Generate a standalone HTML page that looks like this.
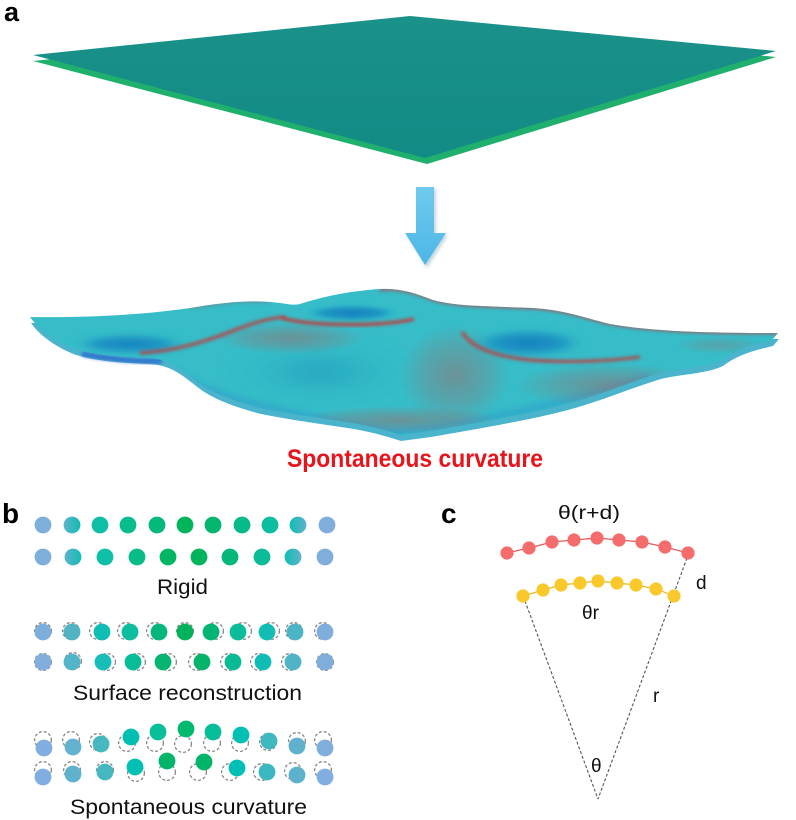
<!DOCTYPE html>
<html><head><meta charset="utf-8"><style>
html,body{margin:0;padding:0;background:#fff;}
svg{display:block;}
text{font-family:"Liberation Sans",Arial,sans-serif;}
</style></head><body>
<svg width="796" height="820" viewBox="0 0 796 820" xmlns="http://www.w3.org/2000/svg">
<defs>
  <filter id="b1" x="-50%" y="-50%" width="200%" height="200%"><feGaussianBlur stdDeviation="1.6"/></filter>
  <filter id="b2" x="-50%" y="-50%" width="200%" height="200%"><feGaussianBlur stdDeviation="3"/></filter>
  <filter id="b3" x="-50%" y="-50%" width="200%" height="200%"><feGaussianBlur stdDeviation="8"/></filter>
  <filter id="sh" x="-50%" y="-50%" width="200%" height="200%"><feGaussianBlur stdDeviation="1.5"/></filter>
  <linearGradient id="arrowG" x1="0" y1="0" x2="0" y2="1">
    <stop offset="0" stop-color="#6fcaee"/><stop offset="1" stop-color="#4db6e6"/>
  </linearGradient>
  <linearGradient id="sheetG" x1="0" y1="0" x2="0" y2="1">
    <stop offset="0" stop-color="#1a9189"/><stop offset="1" stop-color="#128b86"/>
  </linearGradient>
  <radialGradient id="dimG">
    <stop offset="0" stop-color="#1680c0"/><stop offset="0.6" stop-color="#1f98c4"/><stop offset="1" stop-color="#2fb8c6" stop-opacity="0"/>
  </radialGradient>
  <radialGradient id="bigG">
    <stop offset="0" stop-color="#22a2c0"/><stop offset="1" stop-color="#2fb8c6" stop-opacity="0"/>
  </radialGradient>
  <radialGradient id="redG">
    <stop offset="0" stop-color="#a06868" stop-opacity="0.5"/><stop offset="0.6" stop-color="#a06868" stop-opacity="0.25"/><stop offset="1" stop-color="#a06868" stop-opacity="0"/>
  </radialGradient>
  <linearGradient id="gL" x1="0" y1="0" x2="1" y2="0">
    <stop offset="0" stop-color="#60b2cc"/><stop offset="1" stop-color="#0fbdb3"/>
  </linearGradient>
  <linearGradient id="gR" x1="0" y1="0" x2="1" y2="0">
    <stop offset="0" stop-color="#0fbdb3"/><stop offset="1" stop-color="#60b2cc"/>
  </linearGradient>
  <clipPath id="surfClip">
    <path d="M30,317 C90,318 150,314 190,308 C220,303 245,300 270,302 C285,303 292,306 300,304 C325,296 350,291 380,289 C400,288 415,293 433,300 C455,306 480,306 533,308 C565,310 585,318 610,324 C650,331 700,333 778,333 L772,340 C750,345 735,350 722,360 C705,368 680,368 660,373 C630,382 600,395 567,404 C530,414 470,424 430,431 L400,435 C385,430 370,426 353,423 C320,418 290,414 260,408 C230,400 210,392 195,380 C180,368 170,360 150,358 C120,357 90,355 70,347 C50,338 38,328 30,317 Z"/>
  </clipPath>
</defs>

<!-- Panel a label -->
<text x="4" y="21" font-size="27" font-weight="bold" fill="#000">a</text>

<!-- Flat bilayer sheet -->
<polygon points="410,22 33,61 427,164 776,57" fill="#20b06e"/>
<polygon points="410,16 33,55 425,158 776,51" fill="url(#sheetG)"/>

<!-- Arrow -->
<g filter="url(#sh)" opacity="0.35">
  <polygon points="418,189 436,189 436,235 448,235 427,268 407,235 418,235" fill="#5a8aa0"/>
</g>
<polygon points="416,187 434,187 434,233 446,233 425,265 405,233 416,233" fill="url(#arrowG)"/>

<!-- Curved bilayer surface: lower layer -->
<g transform="translate(1,6)">
  <path d="M30,317 C90,318 150,314 190,308 C220,303 245,300 270,302 C285,303 292,306 300,304 C325,296 350,291 380,289 C400,288 415,293 433,300 C455,306 480,306 533,308 C565,310 585,318 610,324 C650,331 700,333 778,333 L772,340 C750,345 735,350 722,360 C705,368 680,368 660,373 C630,382 600,395 567,404 C530,414 470,424 430,431 L400,435 C385,430 370,426 353,423 C320,418 290,414 260,408 C230,400 210,392 195,380 C180,368 170,360 150,358 C120,357 90,355 70,347 C50,338 38,328 30,317 Z" fill="#4ab4cc"/>
</g>
<path d="M82,354 C110,359 140,362 162,361" fill="none" stroke="#2a64d0" stroke-width="5" opacity="0.8" filter="url(#b1)"/>
<!-- upper layer -->
<path d="M30,317 C90,318 150,314 190,308 C220,303 245,300 270,302 C285,303 292,306 300,304 C325,296 350,291 380,289 C400,288 415,293 433,300 C455,306 480,306 533,308 C565,310 585,318 610,324 C650,331 700,333 778,333 L772,340 C750,345 735,350 722,360 C705,368 680,368 660,373 C630,382 600,395 567,404 C530,414 470,424 430,431 L400,435 C385,430 370,426 353,423 C320,418 290,414 260,408 C230,400 210,392 195,380 C180,368 170,360 150,358 C120,357 90,355 70,347 C50,338 38,328 30,317 Z" fill="#36bdc8"/>
<g clip-path="url(#surfClip)">
  <!-- left dimple -->
  <ellipse cx="130" cy="344" rx="60" ry="11" fill="url(#dimG)" filter="url(#b2)"/>
  <!-- big central dimple -->
  <ellipse cx="320" cy="372" rx="95" ry="30" fill="url(#bigG)" filter="url(#b3)"/>
  <!-- bottom bluish underside -->
  <path d="M175,372 C210,400 300,416 398,432 C470,424 560,406 650,376" fill="none" stroke="#2f8fcf" stroke-width="8" opacity="0.4" filter="url(#b2)"/>
  <!-- reddish mesh regions -->
  <ellipse cx="290" cy="338" rx="75" ry="16" fill="url(#redG)"/>
  <ellipse cx="455" cy="375" rx="55" ry="50" fill="url(#redG)"/>
  <ellipse cx="610" cy="385" rx="95" ry="22" fill="url(#redG)"/>
  <ellipse cx="400" cy="420" rx="100" ry="14" fill="url(#redG)"/>
  <ellipse cx="720" cy="345" rx="45" ry="9" fill="url(#redG)" opacity="0.6"/>
  <!-- middle dimple -->
  <ellipse cx="352" cy="313" rx="50" ry="9" fill="url(#dimG)" filter="url(#b1)"/>
  <!-- right dimple -->
  <ellipse cx="528" cy="343" rx="60" ry="15" fill="url(#dimG)" filter="url(#b2)"/>
  <!-- red rims -->
  <path d="M140,353 C175,351 205,342 235,330 C255,322 270,318 285,317" fill="none" stroke="#d42a2a" stroke-width="3.4" filter="url(#b1)" opacity="0.75"/>
  <path d="M282,318 C310,326 380,327 414,319" fill="none" stroke="#d42a2a" stroke-width="3.4" filter="url(#b1)" opacity="0.85"/>
  <path d="M462,332 C470,345 490,356 530,360 C570,363 610,361 640,357" fill="none" stroke="#d42a2a" stroke-width="3.4" filter="url(#b1)" opacity="0.75"/>
  <path d="M380,290 C400,288 415,293 433,300 C455,306 480,306 533,308 C565,310 585,318 610,324 C650,331 700,333 778,333" fill="none" stroke="#d03030" stroke-width="2.4" filter="url(#b1)" opacity="0.75"/>
  <path d="M190,308 C220,303 245,300 270,302" fill="none" stroke="#c04040" stroke-width="2" filter="url(#b1)" opacity="0.45"/>
</g>

<!-- Spontaneous curvature red label -->
<text x="287" y="467" font-size="25" font-weight="bold" fill="#e8141c" textLength="256" lengthAdjust="spacingAndGlyphs">Spontaneous curvature</text>

<!-- Panel b -->
<text x="2" y="523" font-size="28" font-weight="bold" fill="#000">b</text>

<g>
  <!-- Row 1 -->
  <circle cx="43" cy="525" r="8.4" fill="#7eaedc"/>
  <circle cx="72" cy="525" r="8.4" fill="url(#gL)"/>
  <circle cx="100" cy="525" r="8.4" fill="#0ebfa6"/>
  <circle cx="128" cy="525" r="8.4" fill="#08bc8c"/>
  <circle cx="157" cy="525" r="8.4" fill="#05b97a"/>
  <circle cx="185" cy="525" r="8.4" fill="#00b45c"/>
  <circle cx="213" cy="525" r="8.4" fill="#03b670"/>
  <circle cx="242" cy="525" r="8.4" fill="#08ba88"/>
  <circle cx="270" cy="525" r="8.4" fill="#0cbd9f"/>
  <circle cx="298" cy="525" r="8.4" fill="url(#gR)"/>
  <circle cx="327" cy="525" r="8.4" fill="#80aedc"/>
  <!-- Row 2 -->
  <circle cx="43" cy="557" r="8.4" fill="#7eaedc"/>
  <circle cx="73" cy="557" r="8.4" fill="url(#gL)"/>
  <circle cx="105" cy="557" r="8.4" fill="#0fbea6"/>
  <circle cx="137" cy="557" r="8.4" fill="#08bb88"/>
  <circle cx="168" cy="557" r="8.4" fill="#02b665"/>
  <circle cx="199" cy="557" r="8.4" fill="#00b45c"/>
  <circle cx="230" cy="557" r="8.4" fill="#05b87a"/>
  <circle cx="262" cy="557" r="8.4" fill="#0bbc98"/>
  <circle cx="293" cy="557" r="8.4" fill="url(#gR)"/>
  <circle cx="325" cy="557" r="8.4" fill="#80aedc"/>
</g>
<text x="157" y="594" font-size="21" fill="#111" textLength="51" lengthAdjust="spacingAndGlyphs">Rigid</text>

<g fill="none" stroke="#888" stroke-width="1.3" stroke-dasharray="3,2">
  <!-- Row 3 dashed -->
  <circle cx="43" cy="631" r="8.4"/><circle cx="71" cy="631" r="8.4"/><circle cx="98" cy="631" r="8.4"/>
  <circle cx="126" cy="631" r="8.4"/><circle cx="155" cy="631" r="8.4"/><circle cx="185" cy="631" r="8.4"/>
  <circle cx="215" cy="631" r="8.4"/><circle cx="243" cy="631" r="8.4"/><circle cx="271" cy="631" r="8.4"/>
  <circle cx="294" cy="631" r="8.4"/><circle cx="323" cy="631" r="8.4"/>
  <!-- Row 4 dashed -->
  <circle cx="43" cy="662" r="8.4"/><circle cx="73" cy="661" r="8.4"/><circle cx="107" cy="662" r="8.4"/>
  <circle cx="137" cy="662" r="8.4"/><circle cx="168" cy="662" r="8.4"/><circle cx="197" cy="662" r="8.4"/>
  <circle cx="229" cy="662" r="8.4"/><circle cx="259" cy="662" r="8.4"/><circle cx="290" cy="662" r="8.4"/>
  <circle cx="325" cy="662" r="8.4"/>
</g>
<g>
  <!-- Row 3 -->
  <circle cx="43" cy="632" r="8.4" fill="#7eaedc"/>
  <circle cx="72" cy="632" r="8.4" fill="#50b4c5"/>
  <circle cx="102" cy="632" r="8.4" fill="#10bdb5"/>
  <circle cx="130" cy="632" r="8.4" fill="#0cbd9e"/>
  <circle cx="159" cy="632" r="8.4" fill="#05b87a"/>
  <circle cx="185" cy="632" r="8.4" fill="#00b25c"/>
  <circle cx="211" cy="632" r="8.4" fill="#03b575"/>
  <circle cx="238" cy="632" r="8.4" fill="#0bbc98"/>
  <circle cx="267" cy="632" r="8.4" fill="#12beb3"/>
  <circle cx="295" cy="632" r="8.4" fill="#4db4c6"/>
  <circle cx="325" cy="632" r="8.4" fill="#80aedc"/>
  <!-- Row 4 -->
  <circle cx="43" cy="662" r="8.4" fill="#82aede"/>
  <circle cx="72" cy="662" r="8.4" fill="#55b5c8"/>
  <circle cx="103" cy="662" r="8.4" fill="#18bdb8"/>
  <circle cx="133" cy="662" r="8.4" fill="#08bc98"/>
  <circle cx="163" cy="662" r="8.4" fill="#05b570"/>
  <circle cx="202" cy="662" r="8.4" fill="#05b468"/>
  <circle cx="233" cy="662" r="8.4" fill="#08bb94"/>
  <circle cx="263" cy="662" r="8.4" fill="#10bdb6"/>
  <circle cx="293" cy="662" r="8.4" fill="#50b4c6"/>
  <circle cx="325" cy="662" r="8.4" fill="#80aedc"/>
</g>
<text x="73" y="700" font-size="21" fill="#111" textLength="229" lengthAdjust="spacingAndGlyphs">Surface reconstruction</text>

<g fill="none" stroke="#888" stroke-width="1.3" stroke-dasharray="3,2">
  <!-- Row 5 dashed -->
  <circle cx="43" cy="740" r="8.4"/><circle cx="71" cy="740" r="8.4"/><circle cx="98" cy="742" r="8.4"/>
  <circle cx="127" cy="743" r="8.4"/><circle cx="155" cy="743" r="8.4"/><circle cx="183" cy="744" r="8.4"/>
  <circle cx="212" cy="743" r="8.4"/><circle cx="240" cy="743" r="8.4"/><circle cx="268" cy="742" r="8.4"/>
  <circle cx="297" cy="741" r="8.4"/><circle cx="323" cy="740" r="8.4"/>
  <!-- Row 6 dashed -->
  <circle cx="43" cy="770" r="8.4"/><circle cx="72" cy="770" r="8.4"/><circle cx="105" cy="770" r="8.4"/>
  <circle cx="136" cy="773" r="8.4"/><circle cx="167" cy="772" r="8.4"/><circle cx="198" cy="772" r="8.4"/>
  <circle cx="230" cy="772" r="8.4"/><circle cx="262" cy="772" r="8.4"/><circle cx="293" cy="771" r="8.4"/>
  <circle cx="323" cy="770" r="8.4"/>
</g>
<g>
  <!-- Row 5 -->
  <circle cx="44" cy="748" r="8.4" fill="#80aee0"/>
  <circle cx="73" cy="747" r="8.4" fill="#62b2d0"/>
  <circle cx="101" cy="744" r="8.4" fill="#45b8c0"/>
  <circle cx="131" cy="737" r="8.4" fill="#00bfb0"/>
  <circle cx="158" cy="732" r="8.4" fill="#08bf9a"/>
  <circle cx="186" cy="729" r="8.4" fill="#00b86e"/>
  <circle cx="213" cy="732" r="8.4" fill="#06be9a"/>
  <circle cx="241" cy="735" r="8.4" fill="#00c0b4"/>
  <circle cx="269" cy="741" r="8.4" fill="#40b8c0"/>
  <circle cx="297" cy="746" r="8.4" fill="#60b2cc"/>
  <circle cx="325" cy="748" r="8.4" fill="#80aedc"/>
  <!-- Row 6 -->
  <circle cx="43" cy="777" r="8.4" fill="#80aee0"/>
  <circle cx="73" cy="774" r="8.4" fill="#5eb2cc"/>
  <circle cx="105" cy="772" r="8.4" fill="#45b8c0"/>
  <circle cx="135" cy="767" r="8.4" fill="#00c0b4"/>
  <circle cx="167" cy="761" r="8.4" fill="#00b46a"/>
  <circle cx="204" cy="762" r="8.4" fill="#00b46a"/>
  <circle cx="237" cy="768" r="8.4" fill="#00c0b4"/>
  <circle cx="267" cy="772" r="8.4" fill="#3cb8c2"/>
  <circle cx="297" cy="775" r="8.4" fill="#5cb2cc"/>
  <circle cx="325" cy="777" r="8.4" fill="#80aee0"/>
</g>
<text x="70" y="814" font-size="21" fill="#111" textLength="237" lengthAdjust="spacingAndGlyphs">Spontaneous curvature</text>

<!-- Panel c -->
<text x="441" y="523" font-size="28" font-weight="bold" fill="#000">c</text>
<text x="558" y="519" font-size="19" fill="#111" textLength="62" lengthAdjust="spacingAndGlyphs">θ(r+d)</text>

<g fill="none" stroke="#555" stroke-width="1.1" stroke-dasharray="3,2">
  <line x1="525" y1="601" x2="598" y2="799"/>
  <line x1="687" y1="558" x2="598" y2="799"/>
</g>

<polyline points="507,553 529,548 552,542 574,540 597,538 619,540 642,542 665,547 688,553" fill="none" stroke="#e05a5a" stroke-width="1.2"/>
<g fill="#f46c6c">
  <circle cx="507" cy="553" r="6.6"/><circle cx="529" cy="548" r="6.6"/><circle cx="552" cy="542" r="6.6"/>
  <circle cx="574" cy="540" r="6.6"/><circle cx="597" cy="538" r="6.6"/><circle cx="619" cy="540" r="6.6"/>
  <circle cx="642" cy="542" r="6.6"/><circle cx="665" cy="547" r="6.6"/><circle cx="688" cy="553" r="6.6"/>
</g>
<polyline points="523,596 543,590 561,585 580,583 598,581 617,583 636,585 656,589 674,596" fill="none" stroke="#e8b820" stroke-width="1.2"/>
<g fill="#f9c92c">
  <circle cx="523" cy="596" r="6.6"/><circle cx="543" cy="590" r="6.6"/><circle cx="561" cy="585" r="6.6"/>
  <circle cx="580" cy="583" r="6.6"/><circle cx="598" cy="581" r="6.6"/><circle cx="617" cy="583" r="6.6"/>
  <circle cx="636" cy="585" r="6.6"/><circle cx="656" cy="589" r="6.6"/><circle cx="674" cy="596" r="6.6"/>
</g>

<text x="696" y="589" font-size="19" fill="#111">d</text>
<text x="582" y="619" font-size="19" fill="#111">θr</text>
<text x="653" y="702" font-size="19" fill="#111">r</text>
<text x="591" y="772" font-size="19" fill="#111">θ</text>
</svg>
</body></html>
